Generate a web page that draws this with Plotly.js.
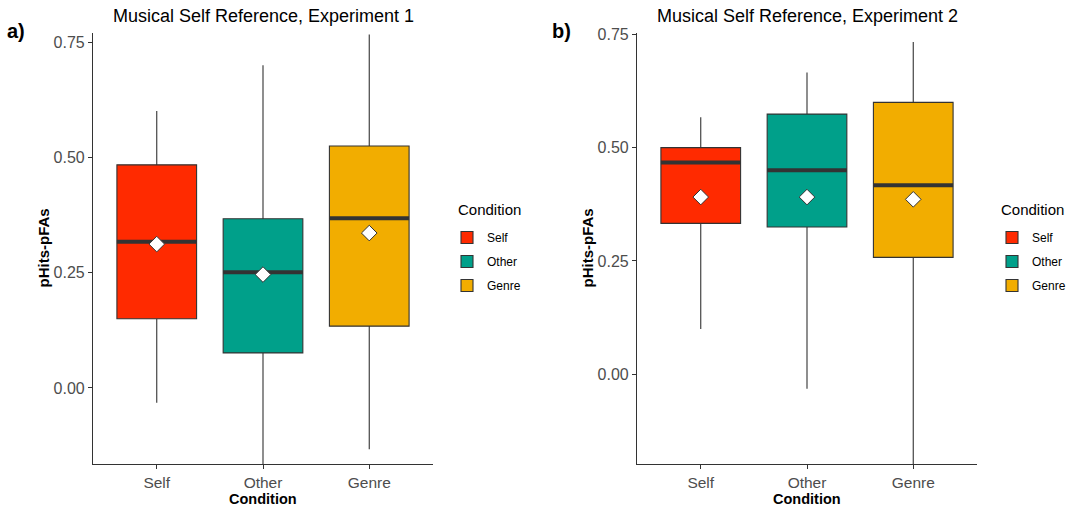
<!DOCTYPE html>
<html>
<head>
<meta charset="utf-8">
<script src="https://cdn.plot.ly/plotly-3.0.1.min.js"></script>
<style>html,body{margin:0;padding:0;background:#fff;}#chart{width:1076px;height:507px;}</style>
</head>
<body>
<div id="chart"></div>
<script>
// ---- data ----
const categories = ['Self', 'Other', 'Genre'];
const colors = ['#FF2A00', '#00A08A', '#F2AD00'];

// Experiment 1
const exp1Lower  = [-0.032, -0.200, -0.133];
const exp1Q1     = [0.150, 0.076, 0.134];
const exp1Median = [0.317, 0.251, 0.368];
const exp1Q3     = [0.484, 0.367, 0.525];
const exp1Upper  = [0.601, 0.700, 0.767];
const exp1Mean   = [0.312, 0.246, 0.336];

// Experiment 2
const exp2Lower  = [0.100, -0.032, -0.250];
const exp2Q1     = [0.333, 0.325, 0.258];
const exp2Median = [0.467, 0.450, 0.417];
const exp2Q3     = [0.500, 0.574, 0.600];
const exp2Upper  = [0.567, 0.666, 0.733];
const exp2Mean   = [0.391, 0.391, 0.386];

const yTicks = [0, 0.25, 0.5, 0.75];

// ---- build ----
const FONT = 'Liberation Sans, Arial, Helvetica, sans-serif';
const BOXW = 0.75;
const traces = [];

function addPanel(ax, legendId, lo, q1, med, q3, hi, mean) {
  const xa = ax === 1 ? 'x' : 'x2';
  const ya = ax === 1 ? 'y' : 'y2';
  categories.forEach((c, i) => {
    traces.push({
      type: 'box', name: c, x: [i + 1],
      q1: [q1[i]], median: [med[i]], q3: [q3[i]],
      lowerfence: [lo[i]], upperfence: [hi[i]],
      fillcolor: colors[i], line: {color: '#333333', width: 1.1},
      whiskerwidth: 0, width: BOXW, boxpoints: false,
      xaxis: xa, yaxis: ya, legend: legendId, legendgroup: legendId + c,
      hoverinfo: 'skip'
    });
  });
  categories.forEach((c, i) => {
    traces.push({
      type: 'scatter', mode: 'lines',
      x: [i + 1 - BOXW / 2, i + 1 + BOXW / 2], y: [med[i], med[i]],
      line: {color: '#333333', width: 4}, showlegend: false,
      xaxis: xa, yaxis: ya, hoverinfo: 'skip'
    });
  });
  traces.push({
    type: 'scatter', mode: 'markers',
    x: categories.map((c, i) => i + 1), y: mean,
    marker: {symbol: 'diamond', size: 12, color: '#FFFFFF', line: {color: '#333333', width: 1}},
    showlegend: false, xaxis: xa, yaxis: ya, hoverinfo: 'skip'
  });
}

addPanel(1, 'legend', exp1Lower, exp1Q1, exp1Median, exp1Q3, exp1Upper, exp1Mean);
addPanel(2, 'legend2', exp2Lower, exp2Q1, exp2Median, exp2Q3, exp2Upper, exp2Mean);

const W = 1076, H = 507;
const pa = {l: 93, r: 433}, pb = {l: 637, r: 977};
const plotTop = 33, plotBottom = 464;
const px = v => v / W, py = v => 1 - v / H;

function xAxis(dom, anchor) {
  return {
    domain: [px(dom.l), px(dom.r)], anchor: anchor,
    range: [0.4, 3.6], tickvals: [1, 2, 3], ticktext: categories,
    showline: true, linecolor: '#333333', linewidth: 1.1,
    ticks: 'outside', ticklen: 4, tickcolor: '#333333', tickwidth: 1,
    showgrid: false, zeroline: false,
    tickfont: {family: FONT, size: 15.5, color: '#4D4D4D'}, fixedrange: true
  };
}
function yAxis(range, anchor) {
  return {
    domain: [py(plotBottom), py(plotTop)], anchor: anchor,
    range: range, tickvals: yTicks, tickformat: '.2f',
    showline: true, linecolor: '#333333', linewidth: 1.1,
    ticks: 'outside', ticklen: 4, tickcolor: '#333333', tickwidth: 1,
    showgrid: false, zeroline: false,
    tickfont: {family: FONT, size: 16, color: '#4D4D4D'}, fixedrange: true
  };
}

function legendCfg(xpix) {
  return {
    x: px(xpix), y: py(223), xanchor: 'left', yanchor: 'top',
    font: {family: FONT, size: 12, color: '#000'},
    tracegroupgap: 5, traceorder: 'grouped', bgcolor: 'rgba(0,0,0,0)'
  };
}

const ann = [];
function addAnn(text, x, y, size, bold, extra) {
  ann.push(Object.assign({
    text: bold ? '<b>' + text + '</b>' : text, x: px(x), y: py(y),
    xref: 'paper', yref: 'paper', showarrow: false,
    xanchor: 'center', yanchor: 'middle',
    font: {family: FONT, size: size, color: '#000'}
  }, extra || {}));
}
addAnn('Musical Self Reference, Experiment 1', (pa.l + pa.r) / 2, 16, 18, false);
addAnn('Musical Self Reference, Experiment 2', (pb.l + pb.r) / 2, 16, 18, false);
addAnn('a)', 16, 31, 20, true);
addAnn('b)', 561, 31, 20, true);
addAnn('Condition', (pa.l + pa.r) / 2, 499, 14.5, true);
addAnn('Condition', (pb.l + pb.r) / 2, 499, 14.5, true);
addAnn('pHits-pFAs', 43, (plotTop + plotBottom) / 2, 15, true, {textangle: -90});
addAnn('pHits-pFAs', 587, (plotTop + plotBottom) / 2, 15, true, {textangle: -90});
addAnn('Condition', 456, 209, 15, false, {xanchor: 'left'});
addAnn('Condition', 999, 209, 15, false, {xanchor: 'left'});

const layout = {
  width: W, height: H, margin: {l: 0, r: 0, t: 0, b: 0},
  paper_bgcolor: '#FFFFFF', plot_bgcolor: '#FFFFFF',
  font: {family: FONT},
  boxmode: 'overlay', showlegend: true,
  xaxis: xAxis(pa, 'y'), yaxis: yAxis([-0.165, 0.77], 'x'),
  xaxis2: xAxis(pb, 'y2'), yaxis2: yAxis([-0.198, 0.753], 'x2'),
  legend: legendCfg(447), legend2: legendCfg(992),
  annotations: ann
};

Plotly.newPlot('chart', traces, layout, {staticPlot: true, displayModeBar: false});
</script>
</body>
</html>
